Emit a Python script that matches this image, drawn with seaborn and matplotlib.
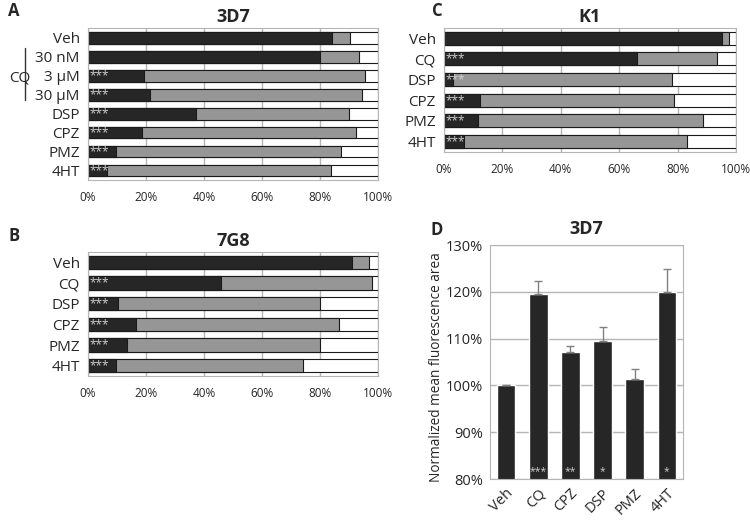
import numpy as np
import pandas as pd
import seaborn as sns
import matplotlib.pyplot as plt

sns.set_style('white')
plt.rcParams['font.family'] = ['Open Sans', 'DejaVu Sans']

DARK = '#262626'
GRAY = '#969696'
GRID = '#b5b5b5'

# Panel A: 3D7 (% dark, % dark+gray cumulative)
a_labels = ['Veh', '30 nM', '3 \u00b5M', '30 \u00b5M', 'DSP', 'CPZ', 'PMZ', '4HT']
a_dark = [84.3, 80.0, 19.2, 21.4, 37.3, 18.6, 9.7, 6.6]
a_cum = [90.3, 93.3, 95.4, 94.4, 89.9, 92.5, 87.2, 83.9]
a_stars = ['', '', '***', '***', '***', '***', '***', '***']

# Panel B: 7G8
b_labels = ['Veh', 'CQ', 'DSP', 'CPZ', 'PMZ', '4HT']
b_dark = [91.0, 45.7, 10.2, 16.7, 13.5, 9.7]
b_cum = [96.9, 97.8, 80.0, 86.6, 80.0, 74.2]
b_stars = ['', '***', '***', '***', '***', '***']

# Panel C: K1
c_labels = ['Veh', 'CQ', 'DSP', 'CPZ', 'PMZ', '4HT']
c_dark = [95.1, 66.1, 3.2, 12.2, 11.5, 7.0]
c_cum = [97.5, 93.4, 78.2, 78.9, 88.6, 83.3]
c_stars = ['', '***', '***', '***', '***', '***']

# Panel D: 3D7 fluorescence area
d_labels = ['Veh', 'CQ', 'CPZ', 'DSP', 'PMZ', '4HT']
d_mean = [100.0, 119.5, 107.1, 109.4, 101.3, 119.9]
d_err = [0.0, 2.8, 1.3, 3.0, 2.2, 5.0]
d_stars = ['', '***', '**', '*', '', '*']


def stacked_panel(ax, labels, dark, cum, stars, title):
    df = pd.DataFrame({'label': labels, 'dark': dark, 'cum': cum,
                       'total': [100] * len(labels)})
    for col, color in [('total', 'white'), ('cum', GRAY), ('dark', DARK)]:
        sns.barplot(data=df, x=col, y='label', color=color, orient='h',
                    width=0.63, edgecolor='#1a1a1a', linewidth=0.8,
                    saturation=1, ax=ax)
    for i, s in enumerate(stars):
        if s:
            ax.text(0.4, i, s, color='#d0d0d0', fontsize=8.5, va='center',
                    ha='left')
    ax.set_xlim(0, 100)
    ax.set_ylim(len(labels) - 0.5, -0.5)
    ax.set_xticks(np.arange(0, 101, 20))
    ax.set_xticklabels([f'{v}%' for v in range(0, 101, 20)], fontsize=8.5)
    ax.tick_params(axis='y', labelsize=11, length=0, pad=6)
    ax.tick_params(axis='x', length=0, pad=8)
    ax.grid(axis='x', color=GRID, linewidth=1)
    ax.set_axisbelow(True)
    for sp in ax.spines.values():
        sp.set_color(GRID)
    ax.set_xlabel('')
    ax.set_ylabel('')
    ax.set_title(title, fontsize=13, fontweight='bold', pad=4)


fig = plt.figure(figsize=(7.5, 5.21), dpi=100)

axA = fig.add_axes([0.1173, 0.6545, 0.3867, 0.2917])
stacked_panel(axA, a_labels, a_dark, a_cum, a_stars, '3D7')
axC = fig.add_axes([0.592, 0.7083, 0.3893, 0.238])
stacked_panel(axC, c_labels, c_dark, c_cum, c_stars, 'K1')
axB = fig.add_axes([0.1173, 0.2783, 0.3867, 0.238])
stacked_panel(axB, b_labels, b_dark, b_cum, b_stars, '7G8')

# CQ bracket for panel A
fig.add_artist(plt.Line2D([25 / 750, 25 / 750], [1 - 48 / 521, 1 - 100 / 521],
                          color='#333333', linewidth=1))
fig.text(9 / 750, 1 - 78 / 521, 'CQ', fontsize=11, va='center', ha='left')

# Panel D
axD = fig.add_axes([0.6533, 0.0806, 0.2573, 0.4491])
ddf = pd.DataFrame({'label': d_labels, 'mean': d_mean})
sns.barplot(data=ddf, x='label', y='mean', color=DARK, saturation=1,
            width=0.58, ax=axD)
axD.errorbar(np.arange(len(d_labels)), d_mean,
             yerr=[np.zeros(len(d_err)), d_err], fmt='none',
             ecolor='#808080', elinewidth=1, capsize=3, capthick=1)
for i, s in enumerate(d_stars):
    if s:
        axD.text(i, 80.3, s, color='#d0d0d0', fontsize=7.5, ha='center',
                 va='bottom')
axD.set_ylim(80, 130)
axD.set_xlim(-0.5, len(d_labels) - 0.5)
axD.set_yticks(np.arange(80, 131, 10))
axD.set_yticklabels([f'{v}%' for v in range(80, 131, 10)], fontsize=10.5)
axD.set_xticks(np.arange(len(d_labels)))
axD.set_xticklabels(d_labels, rotation=45, ha='right',
                    rotation_mode='anchor', fontsize=10.5)
axD.tick_params(length=0, pad=5)
axD.grid(axis='y', color=GRID, linewidth=1)
axD.set_axisbelow(True)
for sp in axD.spines.values():
    sp.set_color(GRID)
axD.set_xlabel('')
axD.set_ylabel('Normalized mean fluorescence area', fontsize=9.8, labelpad=3)
axD.yaxis.set_label_coords(-0.24, 0.48)
axD.set_title('3D7', fontsize=13, fontweight='bold', pad=8)

# Panel letters
for letter, x, y in [('A', 8, 11), ('B', 8, 236), ('C', 432, 11), ('D', 431, 230)]:
    fig.text(x / 750, 1 - y / 521, letter, fontsize=12, fontweight='bold',
             va='center', ha='left')

fig.savefig('out.png', dpi=100)
